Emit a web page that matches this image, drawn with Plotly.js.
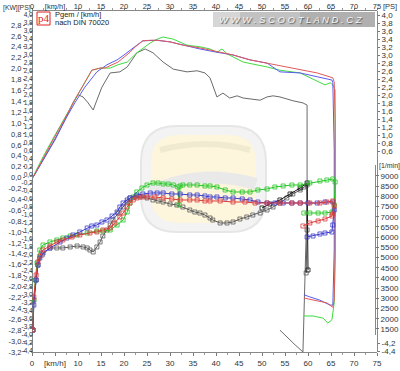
<!DOCTYPE html>
<html><head><meta charset="utf-8">
<script src="https://cdn.plot.ly/plotly-3.0.1.min.js"></script>
<style>html,body{margin:0;padding:0;background:#fff}#c{width:400px;height:371px}</style>
</head><body><div id="c"></div>
<script>
// ---------- data: power (kW) vs speed (km/h) ----------
const pwrRedKmh = [0.2,2.4,5.0,7.2,9.3,11.5,13.0,14.8,15.9,17.4,18.7,20.0,21.3,22.6,24.1,25.7,27.2,30.0,32.8,36.5,38.7,40.9,43.7,47.4,51.1,54.6,58.3,62.0,65.4,65.7,65.9,65.9,65.7,65.4,64.1,62.6,61.1,59.1];
const pwrRedKW  = [0.0,0.36,0.76,1.09,1.43,1.75,1.97,2.01,2.01,2.07,2.12,2.21,2.30,2.41,2.51,2.52,2.52,2.49,2.43,2.38,2.34,2.30,2.25,2.16,2.10,2.03,1.97,1.92,1.83,1.75,1.06,-1.33,-2.25,-2.38,-2.30,-2.27,-2.25,-2.21];
const pwrBlueKmh = [0.2,2.4,5.0,7.2,9.3,11.5,14.1,16.3,18.5,20.0,21.3,22.8,24.1,27.2,30.0,32.8,36.5,40.2,43.7,47.4,51.1,53.9,58.3,62.0,65.2,65.4,65.7,65.7,65.4,65.4,64.8,62.6,60.4,59.1];
const pwrBlueKW  = [0.0,0.32,0.69,1.06,1.37,1.66,1.94,2.07,2.16,2.25,2.34,2.43,2.51,2.52,2.49,2.43,2.36,2.30,2.25,2.16,2.10,1.94,1.92,1.85,1.79,1.74,0.51,-1.33,-2.25,-2.34,-2.34,-2.25,-2.19,-2.15];
const pwrGreenKmh = [0.2,2.4,5.0,7.2,9.3,11.5,13.0,14.8,17.0,18.7,20.7,22.8,24.6,25.7,27.2,28.5,30.7,33.7,36.5,38.7,40.2,41.3,42.4,45.9,51.1,53.9,58.3,60.4,63.7,64.8,65.4,65.9,65.9,65.9,65.7,65.2,64.3,63.3,61.1,59.1];
const pwrGreenKW  = [0.01,0.38,0.78,1.11,1.44,1.75,1.97,2.01,2.01,2.07,2.12,2.29,2.40,2.47,2.54,2.58,2.54,2.43,2.40,2.36,2.30,2.36,2.27,2.12,2.03,1.97,1.92,1.83,1.70,1.74,1.70,1.61,0.51,-1.51,-2.30,-2.61,-2.67,-2.58,-2.54,-2.54];
const pwrGrayKmh = [0.2,2.4,5.0,7.2,8.9,10.0,11.1,12.2,13.3,14.1,15.2,17.0,19.1,20.7,21.7,22.8,24.6,26.3,28.5,30.7,33.7,35.9,37.6,38.7,40.2,41.5,43.0,44.6,45.9,48.0,49.6,51.1,52.4,53.9,55.4,56.7,58.9,59.8,59.8,59.3,58.9,57.2,55.7,53.9];
const pwrGrayKW  = [0.0,0.32,0.71,1.06,1.37,1.52,1.48,1.37,1.24,1.42,1.66,1.92,1.94,2.03,2.16,2.29,2.36,2.29,2.12,1.99,1.94,1.96,1.92,1.83,1.48,1.55,1.46,1.50,1.46,1.44,1.42,1.48,1.50,1.48,1.44,1.41,1.37,1.33,-0.41,-2.25,-3.20,-3.07,-2.94,-2.80];

// ---------- data: engine speed (1/min) vs speed (km/h) ----------
const rpmGreenKmh = [0.2,0.4,0.7,1.1,1.7,2.4,3.9,5.4,6.7,8.3,9.8,12.0,14.1,15.4,17.0,18.5,19.8,20.7,21.3,22.0,22.8,23.9,25.0,26.3,27.4,28.5,29.6,30.7,31.7,32.0,32.2,32.8,34.3,35.9,37.6,38.7,40.2,42.0,43.7,45.7,47.4,49.1,51.1,52.8,54.6,56.5,58.3,60.4,62.6,64.1,65.4,65.9,65.7,65.2,63.7,62.2,60.4,59.1];
const rpmGreen    = [1450,2920,3900,4735,5373,5618,5765,5863,5961,6059,6108,6206,6304,6304,6353,6598,6843,7235,7676,7971,8216,8412,8559,8657,8657,8608,8608,8559,8461,7578,8510,8559,8559,8559,8510,8510,8461,8314,8216,8216,8216,8314,8363,8461,8510,8559,8559,8657,8755,8804,8853,8706,7578,7235,7186,7186,7186,7186];
const rpmBlueKmh = [0.2,0.4,0.9,1.3,1.7,2.4,3.9,6.1,7.6,8.9,10.4,12.0,13.0,14.1,15.2,16.3,17.4,18.5,19.1,19.8,20.7,21.3,22.8,24.1,25.7,27.2,28.5,30.4,32.2,34.3,35.9,37.6,38.7,40.2,42.0,43.7,45.7,47.4,49.1,51.1,52.8,54.6,56.5,58.3,60.0,62.0,63.7,65.4,65.7,65.4,65.2,63.7,62.6,61.1,59.8];
const rpmBlue    = [1450,2676,3902,4637,4980,5226,5471,5765,5961,6108,6255,6451,6549,6598,6745,6843,7039,7235,7480,7676,7824,7922,8069,8118,8167,8167,8167,8118,8118,8069,8069,8020,7971,7971,7922,7922,7873,7824,7725,7676,7676,7676,7676,7676,7676,7676,7725,7725,7333,6598,6255,6206,6157,6059,6010];
const rpmRedKmh = [0.2,0.4,0.9,1.3,1.7,2.4,3.9,5.4,6.7,8.7,10.4,12.6,14.1,15.4,17.0,18.0,19.1,19.8,20.7,21.3,22.0,22.8,23.9,25.0,26.7,28.5,30.4,32.2,34.3,35.9,37.6,38.7,40.9,43.7,46.3,48.5,51.1,53.9,56.5,58.3,60.4,62.6,64.1,65.4,65.7,65.4,65.2,63.7,62.2,60.4,58.9];
const rpmRed    = [1450,3069,4147,4784,5079,5373,5569,5765,5863,6010,6108,6206,6255,6353,6451,6696,6990,7186,7480,7676,7824,7922,7971,7971,7971,7922,7873,7824,7824,7824,7775,7775,7775,7725,7725,7676,7676,7676,7676,7676,7676,7676,7725,7775,7529,7137,7039,6892,6794,6696,6549];
const rpmGrayKmh = [0.2,0.4,0.9,1.3,2.2,3.9,5.4,6.7,8.3,9.8,11.1,12.0,12.6,13.3,14.1,14.8,15.4,16.3,17.0,17.6,18.7,19.8,20.7,21.3,22.4,23.5,25.0,26.3,27.4,28.5,30.0,31.5,32.8,34.3,35.4,36.5,37.6,38.7,39.3,40.9,42.4,43.7,45.2,46.7,48.0,49.6,51.1,52.4,53.9,55.4,56.7,58.3,59.1,59.8,59.8,59.6];
const rpmGray    = [1450,2922,3902,4637,5128,5471,5471,5471,5520,5569,5520,5471,5373,5275,5520,5765,6059,6353,6598,6843,7186,7480,7725,7922,7971,7971,7922,7824,7775,7725,7627,7578,7480,7333,7235,7186,7088,6941,6843,6696,6696,6745,6892,6990,7088,7186,7333,7480,7676,7922,8118,8314,8461,8559,6353,4245];
const rpmBlackKmh = [50.0,51.7,53.9,56.1,58.3,59.8,60.0];
const rpmBlack    = [7431,7627,7824,8118,8412,8657,4392];

// ---------- axis ticks ----------
const kmhTickVals = [0,5,10,15,20,25,30,35,40,45,50,55,60,65,70,75];
const kmhTickText = ['0','[km/h]','10','15','20','25','30','35','40','45','50','55','60','65','70','75'];
const rpmTickVals = [1500,2000,2500,3000,3500,4000,4500,5000,5500,6000,6500,7000,7500,8000,8500,9000];
const kwTick = {from:-3.2, to:2.8, step:0.2};
const psLeftTick = {from:-4.4, to:4.0, step:0.2};
const psRightTickVals = [4.0,3.8,3.6,3.4,3.2,3.0,2.8,2.6,2.4,2.2,2.0,1.8,1.6,1.4,1.2,1.0,0.8,0.6,-4.2,-4.4];

function seq(t){const a=[];for(let v=t.from;v<=t.to+1e-9;v+=t.step){a.push(Math.round(v*10)/10);}return a;}
function fmt(v){const r=Math.round(v*10)/10;return (Math.abs(r)<1e-9?0:r).toFixed(1).replace('.',',');}
const kwTickVals = seq(kwTick), psLeftTickVals = seq(psLeftTick);

// ---------- page geometry helpers (decoration only) ----------
const TOP=11, BOT=352, PH=BOT-TOP;
function PX(x){return x/400;}
function PY(y){return (BOT-y)/PH;}
function P(x,y){return PX(x).toFixed(4)+','+PY(y).toFixed(4);}
function rr(x0,y0,x1,y1,r){
  return 'M'+P(x0+r,y0)+' L'+P(x1-r,y0)+' Q'+P(x1,y0)+' '+P(x1,y0+r)+' L'+P(x1,y1-r)+' Q'+P(x1,y1)+' '+P(x1-r,y1)+
         ' L'+P(x0+r,y1)+' Q'+P(x0,y1)+' '+P(x0,y1-r)+' L'+P(x0,y0+r)+' Q'+P(x0,y0)+' '+P(x0+r,y0)+' Z';
}

const C = {red:'#e05a5a', blue:'#5a5af0', green:'#3fdc3f', gray:'#6a6a6a',
           redR:'#dd3a3a', blueR:'#3a3acc', greenR:'#22c622', grayR:'#5a5a5a', black:'#151515'};

function pl(x,y,c){return {x:x,y:y,xaxis:'x',yaxis:'y',type:'scatter',mode:'lines',line:{color:c,width:1},hoverinfo:'skip'};}
function rl(x,y,c){return {x:x,y:y,xaxis:'x',yaxis:'y4',type:'scatter',mode:'lines+markers',line:{color:c,width:1},
  marker:{symbol:'square-open',size:4,color:c,line:{width:0.8,color:c}},hoverinfo:'skip'};}
// invisible helpers so that the extra (label-only) axes are drawn
function axisHelper(xa,ya,xv,yv){return {x:[xv],y:[yv],xaxis:xa,yaxis:ya,type:'scatter',mode:'markers',marker:{opacity:0,size:1},hoverinfo:'skip'};}

const traces = [
  axisHelper('x2','y',kmhTickVals[0],kwTickVals[0]),
  axisHelper('x','y2',kmhTickVals[0],psLeftTickVals[0]),
  axisHelper('x','y3',kmhTickVals[0],psRightTickVals[0]),
  pl(pwrGrayKmh,pwrGrayKW,C.gray),
  pl(pwrGreenKmh,pwrGreenKW,C.green),
  pl(pwrBlueKmh,pwrBlueKW,C.blue),
  pl(pwrRedKmh,pwrRedKW,C.red),
  rl(rpmGrayKmh,rpmGray,C.grayR),
  rl(rpmBlackKmh,rpmBlack,C.black),
  rl(rpmGreenKmh,rpmGreen,C.greenR),
  rl(rpmBlueKmh,rpmBlue,C.blueR),
  rl(rpmRedKmh,rpmRed,C.redR)
];

const F = 'Liberation Sans, Arial, sans-serif';
const tf = {family:F,size:8,color:'#333'};
const xCommon = {range:[0,75],tickmode:'array',tickvals:kmhTickVals,ticktext:kmhTickText,ticks:'outside',ticklen:3,
  tickcolor:'#777',showline:true,linecolor:'#888',linewidth:1,showgrid:false,zeroline:false,tickfont:tf,
  minor:{tickmode:'linear',tick0:0,dtick:2.5,ticks:'outside',ticklen:2,tickcolor:'#999'}};

const layout = {
  width:400,height:371,margin:{l:0,r:0,t:TOP,b:371-BOT,pad:0},
  paper_bgcolor:'#ffffff',plot_bgcolor:'rgba(0,0,0,0)',showlegend:false,
  font:{family:F,size:8,color:'#333'},
  xaxis:Object.assign({domain:[32/400,377/400],anchor:'y'},xCommon),
  xaxis2:Object.assign({overlaying:'x',side:'top',anchor:'y',ticklabelstandoff:-4},xCommon,{ticklen:2,tickfont:{family:F,size:7.5,color:'#333'}}),
  yaxis:{anchor:'free',position:25/400,side:'left',range:[-3.201,(177.6-TOP)/54.5],tickmode:'array',tickvals:kwTickVals,
    ticktext:kwTickVals.map(fmt),ticks:'outside',ticklen:2,tickcolor:'#777',showline:false,showgrid:false,zeroline:false,
    tickfont:{family:F,size:7.5,color:'#333'}},
  yaxis2:{overlaying:'y',anchor:'free',position:32/400,side:'left',range:[-4.425,4.1],tickmode:'array',tickvals:psLeftTickVals,
    ticktext:psLeftTickVals.map(fmt),ticks:'outside',ticklen:2,tickcolor:'#777',showline:true,linecolor:'#888',
    showgrid:false,zeroline:false,tickfont:{family:'Liberation Sans Narrow, Arial Narrow, '+F,size:6.5,color:'#333'},ticklabelstandoff:-4},
  yaxis3:{overlaying:'y',anchor:'free',position:377/400,side:'right',range:[-4.425,4.1],tickmode:'array',tickvals:psRightTickVals,
    ticktext:psRightTickVals.map(fmt),ticks:'outside',ticklen:2,tickcolor:'#777',showline:true,linecolor:'#888',
    showgrid:false,zeroline:false,tickfont:tf},
  yaxis4:{anchor:'free',position:375/400,side:'right',domain:[PY(335),PY(165)],range:[1205,9539],tickmode:'array',
    tickvals:rpmTickVals,ticks:'outside',ticklen:3,tickcolor:'#777',showline:true,linecolor:'#888',
    showgrid:false,zeroline:false,tickfont:tf},
  shapes:[
    {type:'path',xref:'paper',yref:'paper',layer:'below',path:rr(141,126,266,232,36),fillcolor:'#f3f3f3',line:{color:'#e6e6e6',width:2}},
    {type:'path',xref:'paper',yref:'paper',layer:'below',path:rr(151,135,256,223,28),fillcolor:'#fdf5dc',line:{width:0}},
    {type:'path',xref:'paper',yref:'paper',layer:'below',path:'M'+P(150,192)+' Q'+P(200,168)+' '+P(256,184),line:{color:'#e9e9e9',width:12}},
    {type:'path',xref:'paper',yref:'paper',layer:'below',path:'M'+P(160,150)+' Q'+P(205,138)+' '+P(250,150),line:{color:'#f0ead0',width:6}},
    {type:'rect',xref:'paper',yref:'paper',x0:PX(213),x1:PX(240),y0:PY(27),y1:PY(12),fillcolor:'#d6d6d6',line:{width:0}},
    {type:'rect',xref:'paper',yref:'paper',x0:PX(240),x1:PX(300),y0:PY(27),y1:PY(12),fillcolor:'#c2c2c2',line:{width:0}},
    {type:'rect',xref:'paper',yref:'paper',x0:PX(300),x1:PX(375),y0:PY(27),y1:PY(12),fillcolor:'#b0b0b0',line:{width:0}},
    {type:'rect',xref:'paper',yref:'paper',x0:PX(37),x1:PX(50),y0:PY(25),y1:PY(12),line:{color:'#e02020',width:1},fillcolor:'rgba(0,0,0,0)'}
  ],
  annotations:[
    {text:'[KW][PS]',xref:'paper',yref:'paper',x:PX(1),y:PY(7.5),xanchor:'left',yanchor:'middle',showarrow:false,font:{family:F,size:6.8,color:'#333'}},
    {text:'[PS]',xref:'paper',yref:'paper',x:PX(381),y:PY(6.5),xanchor:'left',yanchor:'middle',showarrow:false,font:{family:F,size:7.5,color:'#333'}},
    {text:'[1/min]',xref:'paper',yref:'paper',x:PX(377),y:PY(166),xanchor:'left',yanchor:'middle',showarrow:false,font:{family:F,size:7,color:'#333'}},
    {text:'p4',xref:'paper',yref:'paper',x:PX(43.5),y:PY(18.5),xanchor:'center',yanchor:'middle',showarrow:false,
      font:{family:'Liberation Serif, Times New Roman, serif',size:11,color:'#e02020'}},
    {text:'Pgem / [km/h]',xref:'paper',yref:'paper',x:PX(53),y:PY(14.5),xanchor:'left',yanchor:'middle',showarrow:false,font:{family:F,size:7.5,color:'#222'}},
    {text:'nach DIN 70020',xref:'paper',yref:'paper',x:PX(53),y:PY(22.5),xanchor:'left',yanchor:'middle',showarrow:false,font:{family:F,size:7.5,color:'#222'}},
    {text:'<i>W W W . S C O O T L A N D . C Z</i>',xref:'paper',yref:'paper',x:PX(291),y:PY(19.5),xanchor:'center',yanchor:'middle',showarrow:false,
      font:{family:F,size:9.5,color:'#f6f6f6',shadow:'1px 1px 1px #555'}}
  ]
};

Plotly.newPlot('c',traces,layout,{staticPlot:true,displayModeBar:false});
</script></body></html>
